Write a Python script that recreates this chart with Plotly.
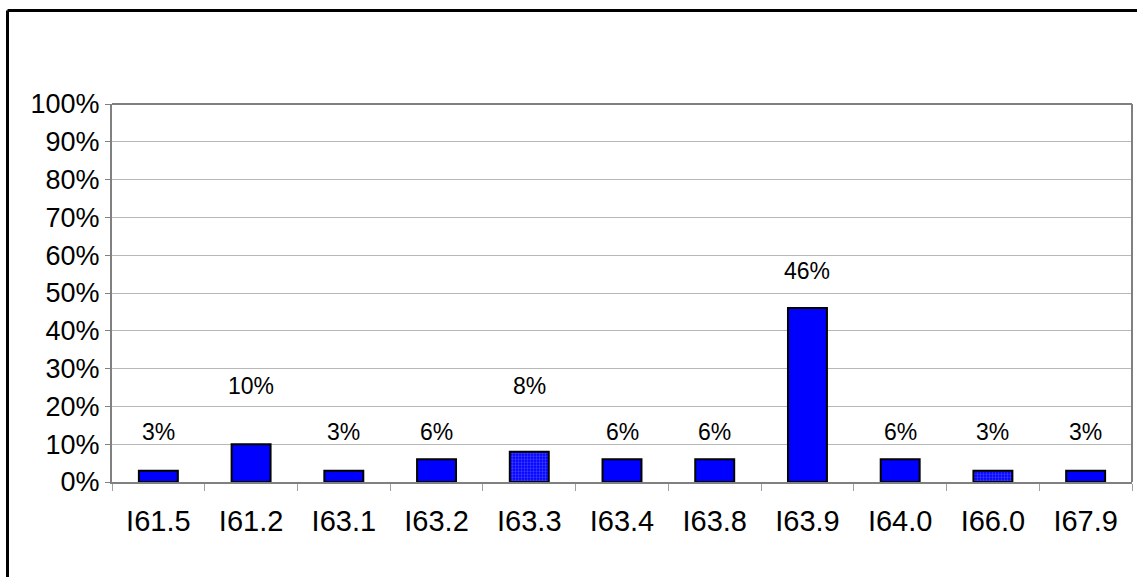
import plotly.graph_objects as go

categories = ["I61.5", "I61.2", "I63.1", "I63.2", "I63.3", "I63.4", "I63.8", "I63.9", "I64.0", "I66.0", "I67.9"]
values = [3, 10, 3, 6, 8, 6, 6, 46, 6, 3, 3]
patterned = [False, False, False, False, True, False, False, False, False, True, False]
label_levels = [13.3, 25.4, 13.3, 13.3, 25.4, 13.3, 13.3, 55.9, 13.3, 13.3, 13.3]
y_ticks = list(range(0, 101, 10))
y_tick_labels = [f"{v}%" for v in y_ticks]

FONT = "Liberation Sans, Arial"
L, R, T, B = 112, 5, 104, 95
PW, PH = 1137 - L - R, 577 - T - B

fig = go.Figure()
fig.add_trace(go.Bar(
    x=categories,
    y=values,
    width=0.42,
    marker=dict(
        color="#0000ff",
        line=dict(color="#000000", width=2),
        pattern=dict(
            shape=["." if p else "" for p in patterned],
            fgcolor="#7878ff",
            bgcolor="#0000ff",
            size=3,
            solidity=0.45,
        ),
    ),
    hoverinfo="skip",
))

for c, v, ly in zip(categories, values, label_levels):
    fig.add_annotation(x=c, y=ly, text=f"{v}%", showarrow=False,
                       font=dict(family=FONT, size=23, color="#000000"))

fig.update_layout(
    width=1137, height=577,
    margin=dict(l=L, r=R, t=T, b=B),
    paper_bgcolor="#ffffff",
    plot_bgcolor="#ffffff",
    showlegend=False,
    font=dict(family=FONT, color="#000000"),
    xaxis=dict(
        type="category",
        showgrid=False,
        showline=True, linecolor="#808080", linewidth=2,
        ticks="outside", ticklen=7, tickcolor="#a0a0a0", tickwidth=1,
        tickson="boundaries",
        tickfont=dict(size=29),
        ticklabelstandoff=12,
    ),
    yaxis=dict(
        range=[0, 100],
        tickvals=y_ticks,
        ticktext=y_tick_labels,
        showgrid=True, gridcolor="#b8b8b8", gridwidth=1,
        showline=True, linecolor="#808080", linewidth=2,
        ticks="outside", ticklen=5, tickcolor="#808080",
        tickfont=dict(size=27),
        zeroline=False,
    ),
)

# plot area border (right and top)
fig.add_shape(type="line", xref="paper", yref="paper", x0=1, x1=1, y0=0, y1=1,
              line=dict(color="#808080", width=2))
fig.add_shape(type="line", xref="paper", yref="paper", x0=0, x1=1, y0=1, y1=1,
              line=dict(color="#808080", width=2))

# outer chart frame (top and left edges)
frame_top = (T + PH - 10.5) / PH
frame_left = -(L - 7.5) / PW
fig.add_shape(type="line", xref="paper", yref="paper",
              x0=frame_left, x1=1.01, y0=frame_top, y1=frame_top,
              line=dict(color="#000000", width=3))
fig.add_shape(type="line", xref="paper", yref="paper",
              x0=frame_left, x1=frame_left, y0=frame_top, y1=-(B + 5) / PH,
              line=dict(color="#000000", width=3))

fig.write_html("out.html", config={"displayModeBar": False, "staticPlot": True},
               post_script="document.body.style.margin='0';document.body.style.overflow='hidden';")
